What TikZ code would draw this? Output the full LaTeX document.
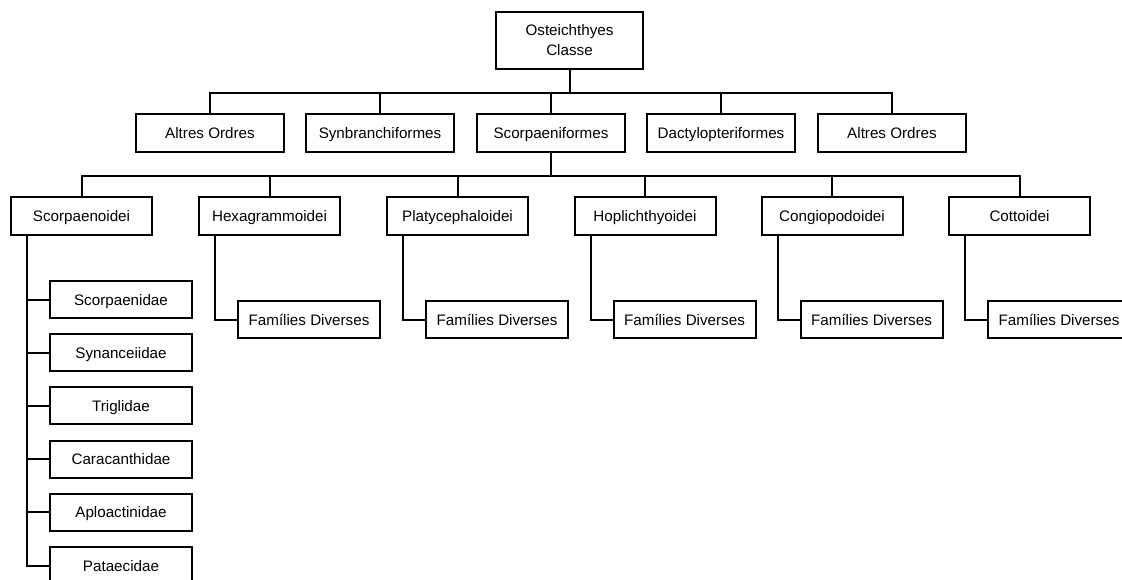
\documentclass[tikz,border=0pt]{standalone}
\usepackage{fontspec}
\setmainfont{Liberation Sans}

\tikzstyle{box}=[draw,rectangle,line width=2pt,inner sep=0pt,align=center,font=\fontsize{15.2}{20}\selectfont]
\tikzstyle{label}=[box,text height=11pt,text depth=0pt]
\tikzstyle{order}=[label,minimum width=148pt,minimum height=38pt]
\tikzstyle{suborder}=[label,minimum width=141pt,minimum height=38pt]
\tikzstyle{family}=[label,minimum width=142pt,minimum height=37pt]
\tikzstyle{link}=[line width=2pt]

\begin{document}
\begin{tikzpicture}[x=1pt,y=-1pt]
    \useasboundingbox (0,0) rectangle (1122,579);
    \clip (0,0) rectangle (1122,579);
    %Class node
    \node[box,minimum width=147pt,minimum height=57pt] (classe) at (569.5,40.5) {Osteichthyes\\Classe};
    %Order nodes
    \foreach \pos/\name/\txt in {{(210,133)/altres1/Altres Ordres}, {(380,133)/synbr/Synbranchiformes},
                                 {(551,133)/scorp/Scorpaeniformes}, {(721,133)/dactyl/Dactylopteriformes},
                                 {(892,133)/altres2/Altres Ordres}}
    {
    \node[order] (\name) at \pos {\txt};
    \draw[link] (classe.south) -- ++(0,23) -| (\name.north);
    }
    %Suborder nodes
    \foreach \pos/\name/\txt in {{(81.5,216)/scorpoid/Scorpaenoidei}, {(269.5,216)/hexa/Hexagrammoidei},
                                 {(457.5,216)/platy/Platycephaloidei}, {(645,216)/hopli/Hoplichthyoidei},
                                 {(832,216)/congio/Congiopodoidei}, {(1019.5,216)/cotto/Cottoidei}}
    {
    \node[suborder] (\name) at \pos {\txt};
    \draw[link] (scorp.south) -- ++(0,23) -| (\name.north);
    }
    %Family nodes
    \foreach \name in {hexa,platy,hopli,congio,cotto}
    {
    \node[family,anchor=west] (fam-\name) at ([xshift=39pt,yshift=-83.5pt]\name.south west) {Famílies Diverses};
    \draw[link] ([xshift=17pt]\name.south west) |- (fam-\name.west);
    }
    \foreach \name [count=\i from 0] in {Scorpaenidae,Synanceiidae,Triglidae,Caracanthidae,Aploactinidae,Pataecidae}
    {
    \node[family] (\name) at (121,299.5+53.2*\i) {\name};
    \draw[link] ([xshift=17pt]scorpoid.south west) |- (\name.west);
    }
\end{tikzpicture}
\end{document}
